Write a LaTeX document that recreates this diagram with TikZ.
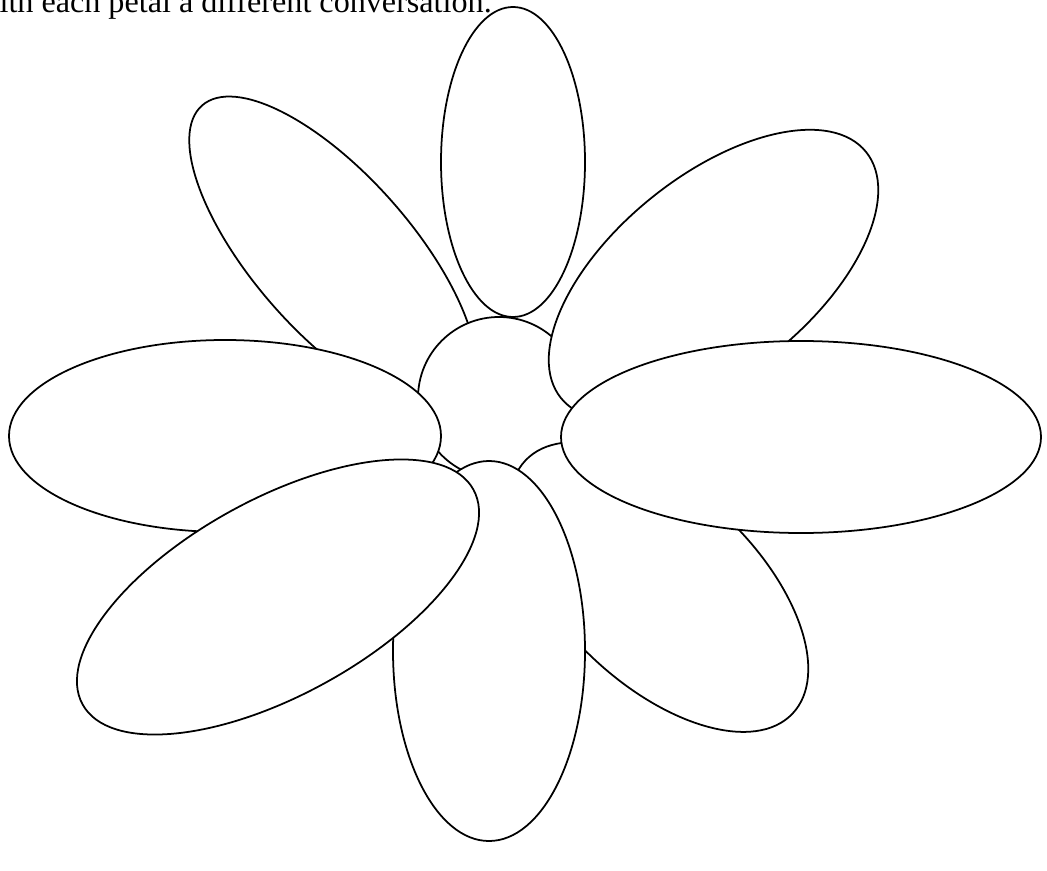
\documentclass[tikz,border=0pt]{standalone}
\usepackage{fontspec}
\setmainfont{Liberation Serif}

\begin{document}
\begin{tikzpicture}[x=0.02cm, y=-0.02cm,
    petal/.style={draw=black, fill=white, line width=1pt}]
  \useasboundingbox (0,0) rectangle (1047,871);
  \clip (0,0) rectangle (1047,871);

  % Caption line, cut off at the top and left edge
  \node[anchor=base west, inner sep=0pt, font=\fontsize{18.3}{22}\selectfont] (caption) at (-24,12.5) {with each petal a different conversation.};

  % Petals at the back
  \draw[petal] (513,162) ellipse [x radius=72, y radius=155];
  \draw[petal, rotate around={-48.6:(333,254)}] (333,254) ellipse [x radius=198, y radius=79];

  % Centre of the flower
  \draw[petal] (499,398) circle [radius=81];

  % Remaining petals, back to front
  \draw[petal, rotate around={38.9:(713.5,275)}] (713.5,275) ellipse [x radius=196, y radius=99];
  \draw[petal] (225,436) ellipse [x radius=216, y radius=96];
  \draw[petal, rotate around={-43.5:(659,587)}] (659,587) ellipse [x radius=184, y radius=97];
  \draw[petal] (801,437) ellipse [x radius=240, y radius=96];
  \draw[petal] (489,651) ellipse [x radius=96, y radius=190];
  \draw[petal, rotate around={28.8:(278,597)}] (278,597) ellipse [x radius=223, y radius=98];
\end{tikzpicture}
\end{document}
